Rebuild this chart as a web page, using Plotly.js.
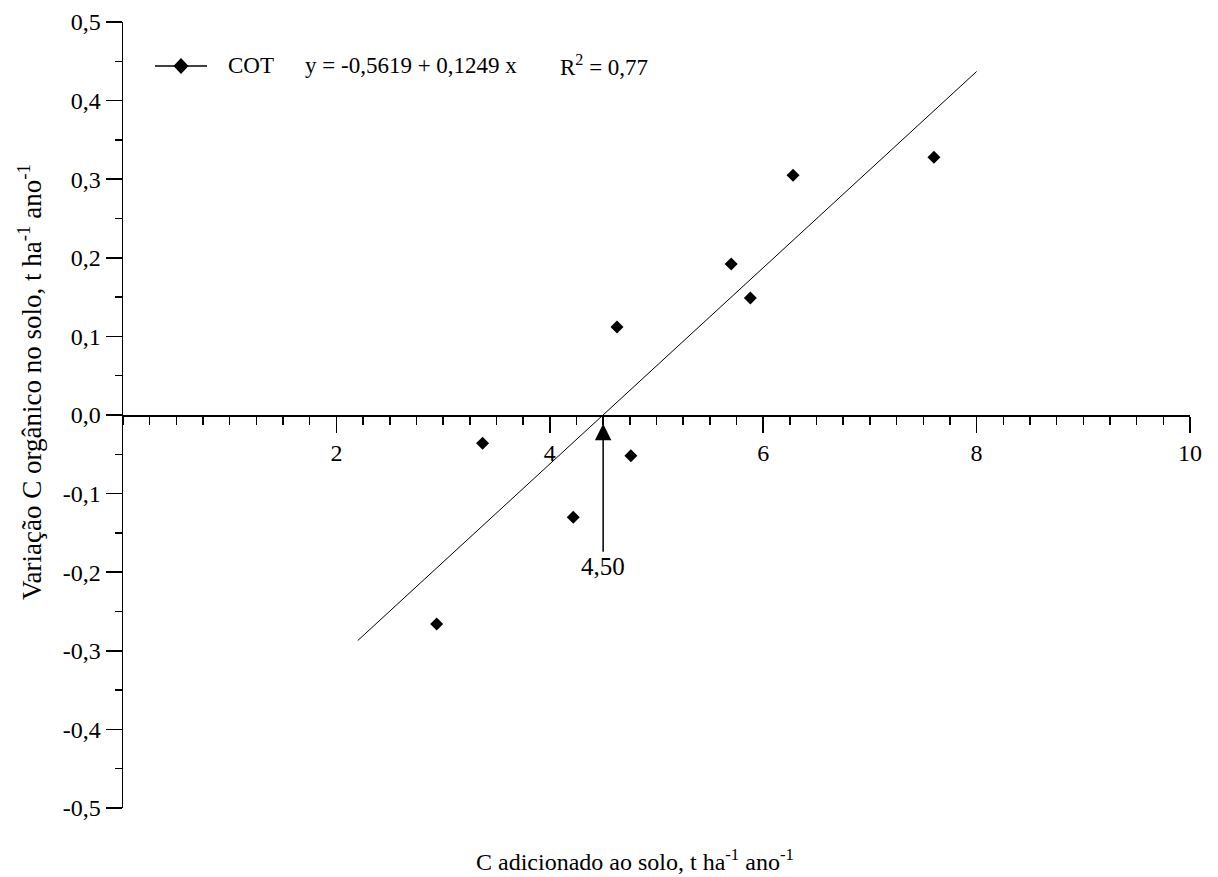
<!DOCTYPE html>
<html><head><meta charset="utf-8">
<script src="https://cdn.plot.ly/plotly-3.0.1.min.js"></script>
<style>body{margin:0;background:#fff}#plot{width:1218px;height:877px}</style>
</head><body><div id="plot"></div>
<script>
const cAdded = [2.94, 3.37, 4.22, 4.63, 4.76, 5.70, 5.88, 6.28, 7.60];
const cVariation = [-0.266, -0.036, -0.130, 0.112, -0.052, 0.192, 0.149, 0.305, 0.328];
const regX = [2.2, 8.0];
const regY = [-0.287, 0.437];
const xTickVals = [2, 4, 6, 8, 10];
const xTickText = ['2', '4', '6', '8', '10'];
const yTickVals = [-0.5, -0.4, -0.3, -0.2, -0.1, 0.0, 0.1, 0.2, 0.3, 0.4, 0.5];
const yTickText = ['-0,5', '-0,4', '-0,3', '-0,2', '-0,1', '0,0', '0,1', '0,2', '0,3', '0,4', '0,5'];
const threshold = 4.50;

const F = 'Liberation Serif, Times New Roman, serif';
const L = 123, R = 1190, T = 22, B = 808;
const px = v => (v - L) / (R - L);
const py = v => (B - v) / (B - T);

const traces = [
  {x: regX, y: regY, mode: 'lines', line: {color: '#000', width: 1}, showlegend: false, hoverinfo: 'skip'},
  {x: cAdded, y: cVariation, mode: 'markers', marker: {symbol: 'diamond', size: 10, color: '#000'}, showlegend: false}
];

const dx = 7.5 / (R - L), dy = 8 / (B - T);
const cx = px(181), cy = py(66);
const layout = {
  width: 1218, height: 877,
  margin: {l: L, r: 1218 - R, t: T, b: 877 - B},
  paper_bgcolor: '#fff', plot_bgcolor: '#fff',
  font: {family: F, size: 24, color: '#000'},
  showlegend: false,
  xaxis: {
    range: [0, 10], anchor: 'free', position: 0.5,
    tickmode: 'array', tickvals: xTickVals, ticktext: xTickText, ticks: 'outside', ticklen: 16, tickwidth: 1.5, tickcolor: '#000',
    minor: {tick0: 0, dtick: 0.25, ticks: 'outside', ticklen: 8, tickwidth: 1.5, tickcolor: '#000', showgrid: false},
    showline: true, linecolor: '#000', linewidth: 1.5, showgrid: false, zeroline: false,
    tickfont: {family: F, size: 24, color: '#000'}
  },
  yaxis: {
    range: [-0.5, 0.5], tickmode: 'array', tickvals: yTickVals, ticktext: yTickText,
    ticks: 'outside', ticklen: 16, tickwidth: 1.5, tickcolor: '#000',
    minor: {tick0: 0, dtick: 0.05, ticks: 'outside', ticklen: 7, tickwidth: 1.5, tickcolor: '#000', showgrid: false},
    showline: true, linecolor: '#000', linewidth: 1.5, showgrid: false, zeroline: false,
    tickfont: {family: F, size: 24, color: '#000'}
  },
  shapes: [
    {type: 'line', xref: 'paper', yref: 'paper', x0: px(155), x1: px(207), y0: cy, y1: cy, line: {color: '#000', width: 1.5}},
    {type: 'path', xref: 'paper', yref: 'paper',
     path: `M${cx - dx},${cy} L${cx},${cy + dy} L${cx + dx},${cy} L${cx},${cy - dy} Z`,
     fillcolor: '#000', line: {color: '#000', width: 0}}
  ],
  annotations: [
    {xref: 'paper', yref: 'paper', x: px(226), y: cy, xanchor: 'left', yanchor: 'middle', showarrow: false, text: 'COT', font: {family: F, size: 23}},
    {xref: 'paper', yref: 'paper', x: px(303), y: cy, xanchor: 'left', yanchor: 'middle', showarrow: false, text: 'y = -0,5619 + 0,1249 x', font: {family: F, size: 23}},
    {xref: 'paper', yref: 'paper', x: px(558), y: cy, xanchor: 'left', yanchor: 'middle', showarrow: false, text: 'R<sup>2</sup> = 0,77', font: {family: F, size: 23}},
    {xref: 'paper', yref: 'paper', x: px(635), y: py(860), xanchor: 'center', yanchor: 'middle', showarrow: false,
     text: 'C adicionado ao solo, t ha<sup>-1</sup> ano<sup>-1</sup>', font: {family: F, size: 24}},
    {xref: 'paper', yref: 'paper', x: px(30), y: py(382), xanchor: 'center', yanchor: 'middle', showarrow: false, textangle: -90,
     text: 'Variação C orgânico no solo, t ha<sup>-1</sup> ano<sup>-1</sup>', font: {family: F, size: 27}},
    {x: threshold, y: -0.011, xref: 'x', yref: 'y', text: '4,50', showarrow: true, ax: 0, ay: 143,
     arrowhead: 2, arrowsize: 2.2, arrowwidth: 1.5, arrowcolor: '#000', font: {family: F, size: 25}, standoff: 0}
  ]
};
Plotly.newPlot('plot', traces, layout, {displayModeBar: false, staticPlot: true});
</script></body></html>
